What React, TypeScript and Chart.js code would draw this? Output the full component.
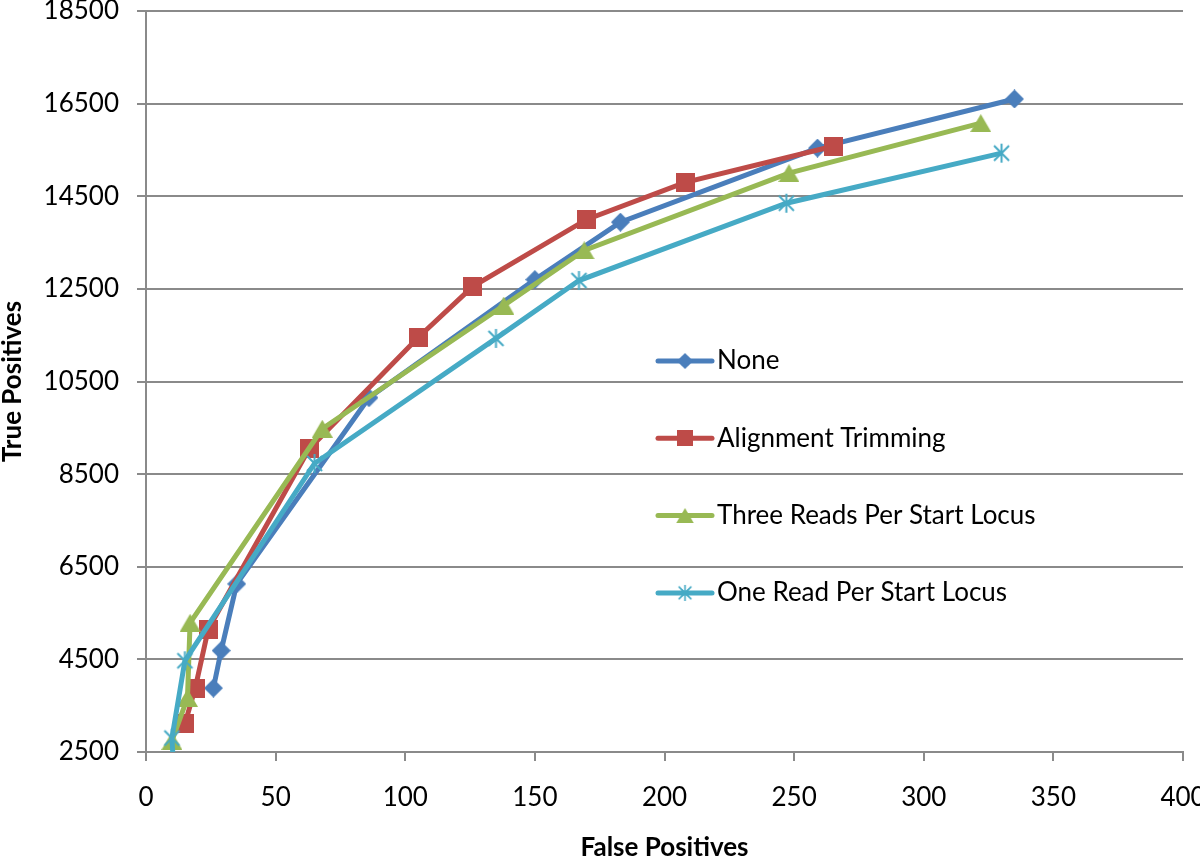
import React, { useEffect, useRef } from "react";
import { Chart, registerables } from "chart.js";

Chart.register(...registerables);

const seriesNames = [
  "None",
  "Alignment Trimming",
  "Three Reads Per Start Locus",
  "One Read Per Start Locus",
];

const noneFP = [26, 29, 35, 86, 150, 183, 259, 335];
const noneTP = [3880, 4690, 6130, 10150, 12700, 13940, 15540, 16600];

const trimFP = [15, 19, 24, 63, 105, 126, 170, 208, 265];
const trimTP = [3110, 3880, 5150, 9050, 11450, 12550, 14000, 14800, 15580];

const threeFP = [10, 16, 17, 68, 138, 169, 248, 322];
const threeTP = [2740, 3670, 5290, 9480, 12140, 13330, 15000, 16080];

const oneFP = [10.5, 10, 15, 65, 135, 167, 247, 330];
const oneTP = [2300, 2800, 4470, 8730, 11430, 12680, 14350, 15430];

const xMin = 0;
const xMax = 400;
const xStep = 50;
const yMin = 2500;
const yMax = 18500;
const yStep = 2000;

const colors = ["#4A7EBB", "#BE4B48", "#98B954", "#46AAC5"];
const shapes = ["diamond", "square", "triangle", "star"];

function makeMarker(shape: string, color: string): HTMLCanvasElement {
  const c = document.createElement("canvas");
  let w = 20, h = 20;
  if (shape === "diamond") { w = 19; h = 19; }
  if (shape === "square") { w = 19; h = 19; }
  if (shape === "triangle") { w = 21; h = 18; }
  if (shape === "star") { w = 21; h = 21; }
  c.width = w;
  c.height = h;
  const ctx = c.getContext("2d")!;
  ctx.fillStyle = color;
  ctx.strokeStyle = color;
  if (shape === "diamond") {
    ctx.beginPath();
    ctx.moveTo(w / 2, 0);
    ctx.lineTo(w, h / 2);
    ctx.lineTo(w / 2, h);
    ctx.lineTo(0, h / 2);
    ctx.closePath();
    ctx.fill();
  } else if (shape === "square") {
    ctx.fillRect(0, 0, w, h);
  } else if (shape === "triangle") {
    ctx.beginPath();
    ctx.moveTo(w / 2, 0);
    ctx.lineTo(w, h);
    ctx.lineTo(0, h);
    ctx.closePath();
    ctx.fill();
  } else {
    ctx.lineWidth = 2;
    ctx.beginPath();
    ctx.moveTo(3, 3);
    ctx.lineTo(w - 3, h - 3);
    ctx.moveTo(w - 3, 3);
    ctx.lineTo(3, h - 3);
    ctx.moveTo(w / 2, 1);
    ctx.lineTo(w / 2, h - 1);
    ctx.stroke();
  }
  return c;
}

const insideLegend = {
  id: "insideLegend",
  afterDraw(chart: any) {
    const o = chart.options.plugins.insideLegend;
    if (!o) return;
    const ctx = chart.ctx;
    ctx.save();
    chart.data.datasets.forEach((ds: any, i: number) => {
      const y = o.top + i * o.gap;
      ctx.strokeStyle = ds.borderColor;
      ctx.lineWidth = 5;
      ctx.lineCap = "round";
      ctx.beginPath();
      ctx.moveTo(o.left, y);
      ctx.lineTo(o.left + o.lineLen, y);
      ctx.stroke();
      const img: HTMLCanvasElement = ds.pointStyle;
      const s = o.markerScale;
      const mw = img.width * s;
      const mh = img.height * s;
      ctx.drawImage(img, o.left + o.lineLen / 2 - mw / 2, y - mh / 2, mw, mh);
      ctx.fillStyle = "#000";
      ctx.font = o.font;
      ctx.textBaseline = "middle";
      ctx.textAlign = "left";
      ctx.fillText(ds.label, o.left + o.lineLen + o.textGap, y);
    });
    ctx.restore();
  },
};

function toPoints(xs: number[], ys: number[]) {
  return xs.map((x, i) => ({ x, y: ys[i] }));
}

export default function App() {
  const ref = useRef<HTMLCanvasElement | null>(null);

  useEffect(() => {
    if (!ref.current) return;
    const xsAll = [noneFP, trimFP, threeFP, oneFP];
    const ysAll = [noneTP, trimTP, threeTP, oneTP];
    const datasets = seriesNames.map((name, i) => ({
      label: name,
      data: toPoints(xsAll[i], ysAll[i]),
      showLine: true,
      borderColor: colors[i],
      backgroundColor: colors[i],
      borderWidth: 5,
      pointStyle: makeMarker(shapes[i], colors[i]),
      pointRadius: 6,
      order: 4 - i,
      tension: 0,
    }));

    const gridColor = "#8a8a8a";
    const tickFont = { family: "Lato", size: 26 };
    const titleFont = { family: "Lato", size: 26, weight: "bold" as const, lineHeight: 1 };
    const plain = (v: any) => String(v);

    const chart = new Chart(ref.current, {
      type: "scatter",
      data: { datasets },
      plugins: [insideLegend],
      options: {
        animation: false,
        responsive: true,
        maintainAspectRatio: false,
        layout: { padding: { top: 11, right: 17, left: 0, bottom: 0 } },
        plugins: {
          legend: { display: false },
          tooltip: { enabled: false },
          insideLegend: {
            left: 658,
            top: 361,
            gap: 77.3,
            lineLen: 54,
            textGap: 5,
            markerScale: 0.85,
            font: "26px Lato",
          },
        } as any,
        scales: {
          x: {
            type: "linear",
            min: xMin,
            max: xMax,
            ticks: { stepSize: xStep, font: tickFont, color: "#000", padding: 21, callback: plain },
            grid: {
              drawOnChartArea: false,
              drawTicks: true,
              tickLength: 9,
              color: gridColor,
              lineWidth: 2,
            },
            border: { display: true, color: gridColor, width: 2 },
            title: {
              display: true,
              text: "False Positives",
              font: titleFont,
              color: "#000",
              padding: { top: 0, bottom: 0 },
            },
            afterFit: (s: any) => {
              s.height = 109;
              s.paddingLeft = 0;
              s.paddingRight = 0;
            },
          },
          y: {
            type: "linear",
            min: yMin,
            max: yMax,
            ticks: { stepSize: yStep, font: tickFont, color: "#000", padding: 18, callback: plain },
            grid: {
              drawOnChartArea: true,
              drawTicks: true,
              tickLength: 9,
              color: gridColor,
              lineWidth: 2,
            },
            border: { display: true, color: gridColor, width: 2 },
            title: {
              display: true,
              text: "True Positives",
              font: titleFont,
              color: "#000",
              padding: { top: 0, bottom: 0 },
            },
            afterFit: (s: any) => {
              s.width = 146;
              s.paddingTop = 0;
              s.paddingBottom = 0;
            },
          },
        },
      },
    });
    return () => chart.destroy();
  }, []);

  return (
    <div
      style={{
        position: "fixed",
        left: 0,
        top: 0,
        width: 1200,
        height: 861,
        background: "#fff",
      }}
    >
      <canvas ref={ref} />
    </div>
  );
}
